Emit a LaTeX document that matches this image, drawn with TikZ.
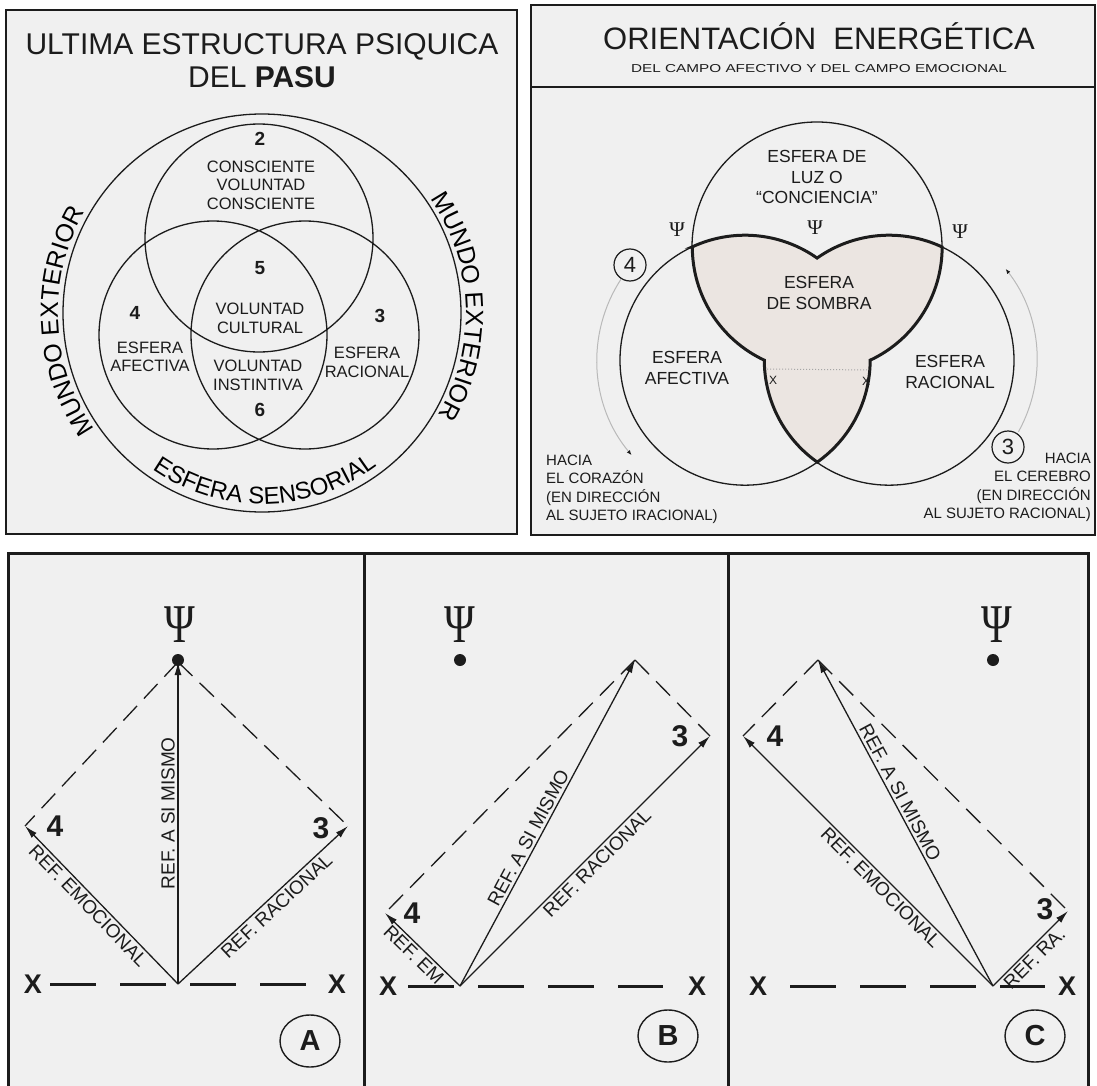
\documentclass[tikz,border=0pt]{standalone}
\usepackage{fontspec}
\setmainfont{Liberation Sans}
\newfontfamily\psifont{Liberation Serif}
\usetikzlibrary{arrows.meta,decorations.text,shapes.geometric}
\definecolor{panelfill}{HTML}{F0F0F0}
\definecolor{shadefill}{HTML}{EBE5E1}
\definecolor{ink}{HTML}{1C1C1C}
\tikzset{
  panel/.style={draw=ink, line width=2.5pt, fill=panelfill},
  thinc/.style={draw=ink, line width=1.3pt},
  heavy/.style={draw=ink, line width=3pt},
  lbl/.style={font=\fontsize{16.5}{18.5}\selectfont, align=center, inner sep=0pt},
  lbltwo/.style={font=\fontsize{17.5}{20.5}\selectfont, align=center, inner sep=0pt},
  num/.style={font=\bfseries\fontsize{19}{19}\selectfont, inner sep=0pt},
  hacia/.style={font=\fontsize{15}{18.5}\selectfont, inner sep=0pt},
  psismall/.style={font=\psifont\fontsize{21}{21}\selectfont, inner sep=0pt},
  psibig/.style={font=\psifont\fontsize{52}{52}\selectfont, inner sep=0pt},
  ringnum/.style={draw=ink, circle, line width=1.2pt, minimum size=32pt, inner sep=0pt, font=\fontsize{22}{22}\selectfont},
  turnarr/.style={draw=gray!55, line width=1pt, -{Latex[length=5pt,width=4pt,color=ink]}},
  dotn/.style={circle, fill=ink, minimum size=12pt, inner sep=0pt},
  arr/.style={draw=ink, line width=1.3pt, -{Latex[length=13pt,width=7pt]}},
  dashln/.style={draw=ink, line width=1.3pt, dash pattern=on 20pt off 10pt},
  axisln/.style={draw=ink, line width=3pt, dash pattern=on 46pt off 24pt},
  xlbl/.style={font=\bfseries\fontsize{27}{27}\selectfont, inner sep=0pt},
  bignum/.style={font=\bfseries\fontsize{30}{30}\selectfont, inner sep=0pt},
  reflbl/.style={font=\fontsize{19}{19}\selectfont, inner sep=3pt},
  tag/.style={draw=ink, ellipse, line width=1.4pt, minimum width=60pt, minimum height=52pt, inner sep=0pt, font=\bfseries\fontsize{29}{29}\selectfont},
}
\begin{document}
\begin{tikzpicture}[x=1pt,y=1pt,color=ink]
\useasboundingbox (0,0) rectangle (1097,-1086);

\draw[panel] (6,-10) rectangle (517,-534);
\node[anchor=base, font=\fontsize{30}{30}\selectfont] (titleA) at (262,-55) {ULTIMA ESTRUCTURA PSIQUICA};
\node[anchor=base, font=\fontsize{30}{30}\selectfont] (titleB) at (262,-87.5) {DEL \textbf{PASU}};
\draw[thinc] (262,-313) circle (199);
\draw[thinc] (259,-238) circle (114) (213,-335) circle (114) (305,-335) circle (114);
\node[num] (n2) at (260,-139) {2};
\node[lbl] (consc) at (261,-185) {CONSCIENTE\\VOLUNTAD\\CONSCIENTE};
\node[num] (n5) at (260,-268) {5};
\node[lbl] (cult) at (260,-318.5) {VOLUNTAD\\CULTURAL};
\node[num] (n4) at (135,-312.5) {4};
\node[lbl] (afec) at (150,-357) {ESFERA\\AFECTIVA};
\node[num] (n3) at (380,-316) {3};
\node[lbl] (rac) at (367,-362.5) {ESFERA\\RACIONAL};
\node[lbl] (inst) at (258,-375.5) {VOLUNTAD\\INSTINTIVA};
\node[num] (n6) at (260,-410) {6};
\path[decorate, decoration={text along path, text align=center, text={|\fontsize{25}{25}\selectfont|MUNDO EXTERIOR}}]
  (262,-313) ++(220:204) arc[start angle=220, end angle=145, radius=204];
\path[decorate, decoration={text along path, text align=center, text={|\fontsize{25}{25}\selectfont|MUNDO EXTERIOR}}]
  (262,-313) ++(40:204) arc[start angle=40, end angle=-36, radius=204];
\path[decorate, decoration={text along path, text align=center, text={|\fontsize{24}{24}\selectfont|ESFERA SENSORIAL}}]
  (262,-313) ++(230:191) arc[start angle=230, end angle=312, radius=191];

\draw[panel] (531,-5) rectangle (1095,-535);
\draw[line width=2.5pt] (531,-87) -- (1095,-87);
\node[anchor=base, font=\fontsize{31}{31}\selectfont] (titleC) at (819,-50) {ORIENTACIÓN\ \ ENERGÉTICA};
\node[anchor=base, font=\fontsize{11.5}{11.5}\selectfont] (subC) at (819,-72.5) {\scalebox{1.33}[1]{DEL CAMPO AFECTIVO Y DEL CAMPO EMOCIONAL}};
\coordinate (T) at (817,-247);
\coordinate (L) at (745,-360);
\coordinate (R) at (889,-360);
\path (T) ++(180:125) coordinate (ptl) (T) ++(0:125) coordinate (ptr);
\draw[thinc] (ptl) arc[start angle=180, end angle=0, radius=125];
\draw[thinc] (ptl) arc[start angle=115.1, end angle=305.2, radius=125];
\draw[thinc] (ptr) arc[start angle=64.9, end angle=-125.2, radius=125];
\filldraw[heavy, fill=shadefill] (ptl) arc[start angle=115.1, end angle=54.8, radius=125]
  arc[start angle=125.2, end angle=64.9, radius=125]
  arc[start angle=0, end angle=-64.9, radius=125]
  arc[start angle=-0.1, end angle=-54.8, radius=125]
  arc[start angle=234.8, end angle=180.1, radius=125]
  arc[start angle=244.9, end angle=180, radius=125] -- cycle;
\coordinate (dl) at (767,-369);
\coordinate (dr) at (869,-370);
\draw[gray!70, dotted, line width=1pt] (dl) -- (dr);
\node[font=\fontsize{12}{12}\selectfont, inner sep=0pt] (xl) at (773,-380) {X};
\node[font=\fontsize{12}{12}\selectfont, inner sep=0pt] (xr) at (866,-381) {X};
\node[psismall] (psil) at (677,-230) {Ψ};
\node[psismall] (psim) at (815,-228) {Ψ};
\node[psismall] (psir) at (960,-232) {Ψ};
\node[lbltwo] (luz) at (817,-177) {ESFERA DE\\LUZ O\\“CONCIENCIA”};
\node[lbltwo] (sombra) at (819,-293) {ESFERA\\DE SOMBRA};
\node[lbltwo] (afec2) at (687,-368) {ESFERA\\AFECTIVA};
\node[lbltwo] (rac2) at (950,-372) {ESFERA\\RACIONAL};
\node[ringnum] (c4) at (630,-265) {4};
\node[ringnum] (c3) at (1008,-447) {3};
\path (L) ++(147:148) coordinate (tl0) (R) ++(-29:148) coordinate (tr0);
\draw[turnarr] (tl0) arc[start angle=147, end angle=220, radius=148];
\draw[turnarr] (tr0) arc[start angle=-29, end angle=38, radius=148];
\node[hacia, anchor=north west, align=left] (hacL) at (546,-454.5) {HACIA\\EL CORAZÓN\\(EN DIRECCIÓN\\AL SUJETO IRACIONAL)};
\node[hacia, anchor=north east, align=right] (hacR) at (1091,-452.5) {HACIA\\EL CEREBRO\\(EN DIRECCIÓN\\AL SUJETO RACIONAL)};

\draw[panel, line width=3pt] (8,-553) rectangle (1088,-1095);
\draw[line width=3pt] (364,-553) -- (364,-1095) (728,-553) -- (728,-1095);

\coordinate (bA) at (178,-984);
\coordinate (aA) at (178,-662);
\coordinate (fA) at (25,-826);
\coordinate (tA) at (348,-826);
\node[psibig] (psiA) at (180,-625) {\scalebox{0.8}[1.05]{Ψ}};
\node[dotn] (dotA) at (178,-660) {};
\draw[dashln] (aA) -- (fA) (aA) -- (tA);
\draw[arr] (bA) -- (fA);
\draw[arr] (bA) -- (tA);
\draw[arr] (bA) -- (aA);
\path (bA) -- node[reflbl, sloped, below, pos=0.54] {REF. EMOCIONAL} (fA);
\path (bA) -- node[reflbl, sloped, above, pos=0.53] {REF. A SI MISMO} (aA);
\path (bA) -- node[reflbl, sloped, below, pos=0.54] {REF. RACIONAL} (tA);
\node[bignum] (n4A) at (55,-826) {4};
\node[bignum] (n3A) at (321,-828) {3};
\node[xlbl] (xA1) at (33,-984) {X};
\node[xlbl] (xA2) at (337,-984) {X};
\draw[axisln, shorten <=8pt, shorten >=22pt] (xA1) -- (xA2);
\node[tag] (tagA) at (310,-1041) {A};

\coordinate (bB) at (460,-986);
\coordinate (aB) at (635,-660);
\coordinate (fB) at (385,-913);
\coordinate (tB) at (710,-736);
\node[psibig] (psiB) at (460,-625) {\scalebox{0.8}[1.05]{Ψ}};
\node[dotn] (dotB) at (460,-660) {};
\draw[dashln] (aB) -- (fB) (aB) -- (tB);
\draw[arr] (bB) -- (fB);
\draw[arr] (bB) -- (tB);
\draw[arr] (bB) -- (aB);
\path (bB) -- node[reflbl, sloped, below, pos=0.5] {REF. EM.} (fB);
\path (bB) -- node[reflbl, sloped, above, pos=0.44] {REF. A SI MISMO} (aB);
\path (bB) -- node[reflbl, sloped, below, pos=0.52] {REF. RACIONAL} (tB);
\node[bignum] (n4B) at (412,-913) {4};
\node[bignum] (n3B) at (680,-736) {3};
\node[xlbl] (xB1) at (388,-986) {X};
\node[xlbl] (xB2) at (697,-986) {X};
\draw[axisln, shorten <=11pt, shorten >=25pt] (xB1) -- (xB2);
\node[tag] (tagB) at (668,-1036) {B};

\coordinate (bC) at (993,-986);
\coordinate (aC) at (818,-660);
\coordinate (fC) at (743,-736);
\coordinate (tC) at (1068,-911);
\node[psibig] (psiC) at (997,-625) {\scalebox{0.8}[1.05]{Ψ}};
\node[dotn] (dotC) at (993,-660) {};
\draw[dashln] (aC) -- (fC) (aC) -- (tC);
\draw[arr] (bC) -- (fC);
\draw[arr] (bC) -- (tC);
\draw[arr] (bC) -- (aC);
\path (bC) -- node[reflbl, sloped, below, pos=0.42] {REF. EMOCIONAL} (fC);
\path (bC) -- node[reflbl, sloped, above, pos=0.58] {REF. A SI MISMO} (aC);
\path (bC) -- node[reflbl, sloped, below, pos=0.46] {REF. RA.} (tC);
\node[bignum] (n4C) at (775,-736) {4};
\node[bignum] (n3C) at (1045,-909) {3};
\node[xlbl] (xC1) at (758,-986) {X};
\node[xlbl] (xC2) at (1067,-986) {X};
\draw[axisln, shorten <=23pt, shorten >=13pt] (xC1) -- (xC2);
\node[tag] (tagC) at (1035,-1036) {C};
\end{tikzpicture}
\end{document}
